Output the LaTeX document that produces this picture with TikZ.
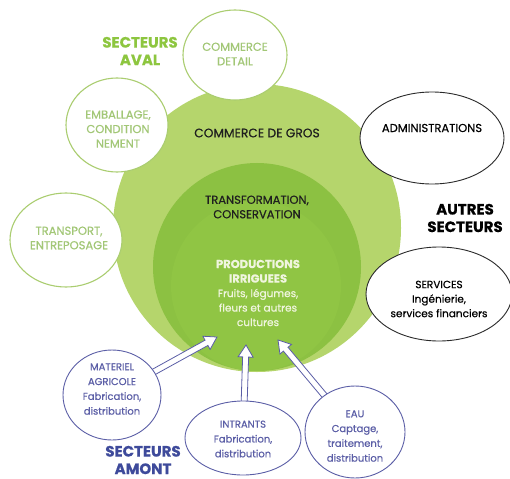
\documentclass[tikz,border=0pt]{standalone}
\usepackage{fontspec}
\setmainfont{Poppins}[FakeBold=0.5]
\usetikzlibrary{calc,shapes.geometric}
\pgfdeclarelayer{bg}
\pgfdeclarelayer{mid}
\pgfsetlayers{bg,mid,main}
\definecolor{outerg}{HTML}{B5D56C}
\definecolor{midg}{HTML}{8CC142}
\definecolor{innerg}{HTML}{90C544}
\definecolor{avalline}{HTML}{AACD70}
\definecolor{avaltext}{HTML}{A2C776}
\definecolor{avaltitle}{HTML}{8DC63F}
\definecolor{autreline}{HTML}{2A2A2A}
\definecolor{amont}{HTML}{5B5EA6}
\definecolor{amonttitle}{HTML}{3E4A9B}
\definecolor{prodtext}{HTML}{F0F5DE}
\newcommand\hollowarrowX[3]{%
  \coordinate (#3h) at ($(#2)!12pt!(#1)$);
  \draw[hollow] ($(#1)!3pt!90:(#2)$) -- ($(#3h)!3pt!90:(#2)$) -- ($(#3h)!7.5pt!90:(#2)$) -- (#2)
     -- ($(#3h)!7.5pt!-90:(#2)$) -- ($(#3h)!3pt!-90:(#2)$) -- ($(#1)!3pt!-90:(#2)$) -- cycle;}
\begin{document}
\begin{tikzpicture}[x=1pt,y=-1pt,
  txt/.style={font=\fontsize{10.5}{14.5}\selectfont, align=center, inner sep=0},
  capstxt/.style={font=\fontsize{11.5}{14.5}\selectfont, align=center, inner sep=0},
  bluetxt/.style={font=\fontsize{10}{14.8}\selectfont, align=center, inner sep=0, text=amont},
  avalbox/.style={ellipse, draw=avalline, line width=1.1pt, fill=white, inner sep=0},
  autrebox/.style={ellipse, draw=autreline, line width=0.9pt, fill=white, inner sep=0},
  amontbox/.style={ellipse, draw=amont, line width=0.9pt, fill=white, inner sep=0},
  hollow/.style={draw=amont, fill=white, line width=0.8pt, line join=miter},
  sectitle/.style={font=\fontsize{15}{17.5}\selectfont\bfseries, align=center, inner sep=0},
  disc/.style={circle, inner sep=0}
]
\useasboundingbox (0,0) rectangle (510,478);
\begin{pgfonlayer}{bg}
  \fill[white] (0,0) rectangle (510,478);
  \node[disc, fill=outerg, minimum size=288pt] (gros) at (257,228) {};
  \node[disc, fill=midg, minimum size=208pt] (transf) at (257,267) {};
  \node[disc, fill=innerg, minimum size=170pt] (prod) at (256,286) {};
\end{pgfonlayer}

% central texts
\node[capstxt, text=black!88, font=\fontsize{12.3}{14.5}\selectfont] (grostext) at (257,133) {COMMERCE DE GROS};
\node[capstxt, text=black!88] (transftext) at (257,207) {TRANSFORMATION,\\CONSERVATION};
\node[txt, text=prodtext] (prodtext) at (258,293) {{\fontsize{11.5}{14.5}\selectfont\bfseries PRODUCTIONS}\\{\fontsize{11.5}{14.5}\selectfont\bfseries IRRIGUEES}\\Fruits, légumes,\\fleurs et autres\\cultures};

% secteurs aval
\node[avalbox, minimum width=104pt, minimum height=90pt] (detail) at (235,55) {};
\node[avalbox, minimum width=102pt, minimum height=94pt] (emb) at (117,125) {};
\node[avalbox, minimum width=112pt, minimum height=94pt] (transp) at (66,240) {};
\node[capstxt, text=avaltext] (detailtext) at (235,54) {COMMERCE\\DETAIL};
\node[capstxt, text=avaltext] (embtext) at (118,129) {EMBALLAGE,\\CONDITION\\NEMENT};
\node[capstxt, text=avaltext] (transptext) at (69,238) {TRANSPORT,\\ENTREPOSAGE};
\node[sectitle, text=avaltitle] (aval) at (140,51) {SECTEURS\\AVAL};

% autres secteurs
\node[autrebox, minimum width=144pt, minimum height=92pt] (admin) at (432,138) {};
\node[autrebox, minimum width=146pt, minimum height=94pt] (serv) at (439,294) {};
\node[capstxt, text=black] (admintext) at (432,128) {ADMINISTRATIONS};
\node[txt, text=black] (servtext) at (439,299) {SERVICES\\Ingénierie,\\services financiers};
\node[sectitle, text=black] (autres) at (465,218) {AUTRES\\SECTEURS};

% secteurs amont
\node[amontbox, minimum width=98pt, minimum height=90pt] (mat) at (112,395) {};
\node[amontbox, minimum width=116pt, minimum height=74pt] (intr) at (243,438) {};
\node[amontbox, minimum width=100pt, minimum height=92pt] (eau) at (355,432) {};
\node[bluetxt] (mattext) at (112,389) {MATERIEL\\AGRICOLE\\Fabrication,\\distribution};
\node[bluetxt] (intrtext) at (243,439) {INTRANTS\\Fabrication,\\distribution};
\node[bluetxt] (eautext) at (355,436) {EAU\\Captage,\\traitement,\\distribution};
\node[sectitle, text=amonttitle] (amontlab) at (143,460) {SECTEURS\\AMONT};

% arrows
\coordinate (t1) at (217,337);
\coordinate (t2) at (246,345);
\coordinate (t3) at (278,340);
\begin{pgfonlayer}{mid}
  \hollowarrowX{mat}{t1}{a1}
  \hollowarrowX{intr}{t2}{a2}
  \hollowarrowX{eau}{t3}{a3}
\end{pgfonlayer}
\end{tikzpicture}
\end{document}
